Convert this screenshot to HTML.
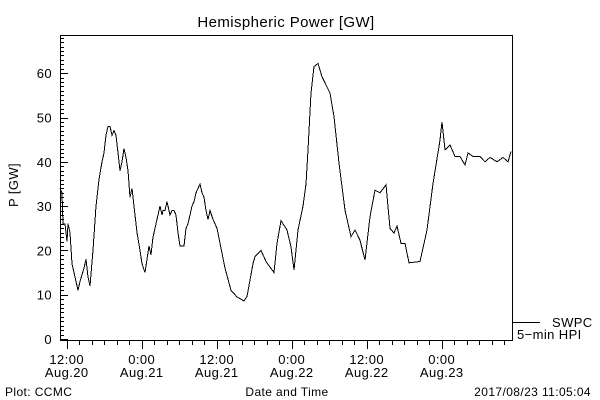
<!DOCTYPE html>
<html><head><meta charset="utf-8"><style>
html,body{margin:0;padding:0;background:#fff;}
svg{display:block;font-family:"Liberation Sans",sans-serif;}
text{letter-spacing:0.4px;}
</style></head><body>
<svg id="chart" width="600" height="400" viewBox="0 0 600 400" xmlns="http://www.w3.org/2000/svg">
<rect width="600" height="400" fill="#fff"/>
<text x="286" y="27" font-size="15" text-anchor="middle">Hemispheric Power [GW]</text>
<text transform="translate(18,185) rotate(-90)" font-size="13" text-anchor="middle">P [GW]</text>
<rect x="60.5" y="35.5" width="452" height="305" fill="none" stroke="#000" stroke-width="1" shape-rendering="crispEdges"/>
<g id="yaxis" shape-rendering="crispEdges"></g>
<g id="xaxis"></g>
<path id="series" fill="none" stroke="#000" stroke-width="1" shape-rendering="crispEdges"/>
<g>
<line x1="513" y1="322.5" x2="540" y2="322.5" stroke="#000" shape-rendering="crispEdges"/>
<text x="552" y="327" font-size="13">SWPC</text>
<text x="517" y="339" font-size="13">5−min HPI</text>
</g>
<text x="5" y="396" font-size="12">Plot: CCMC</text>
<text x="287" y="396" font-size="12" text-anchor="middle">Date and Time</text>
<text x="591" y="396" font-size="12" text-anchor="end">2017/08/23 11:05:04</text>
</svg>
<script>
// hours since 2017-08-20 12:00 UT
const times = [-1.07,-0.75,-0.59,-0.27,0.05,0.21,0.53,0.85,1.17,1.49,1.81,2.13,2.77,3.09,3.41,3.73,4.21,4.69,5.17,5.65,5.97,6.29,6.61,6.93,7.25,7.57,7.89,8.21,8.53,8.85,9.17,9.49,9.81,10.13,10.45,10.77,11.25,11.73,12.05,12.53,12.85,13.17,13.49,13.81,14.29,14.61,14.93,15.25,15.41,15.73,16.05,16.53,16.85,17.17,17.49,17.81,18.13,18.77,19.09,19.41,19.73,20.05,20.37,20.69,21.01,21.33,21.65,21.97,22.29,22.61,22.93,23.41,24.05,25.33,26.29,27.25,28.37,28.85,29.81,30.13,31.09,31.89,33.17,33.65,34.29,35.25,35.89,36.37,37.01,37.81,38.29,38.61,39.09,39.57,40.21,40.85,42.13,42.77,43.57,44.53,45.49,46.13,46.93,47.73,48.53,49.33,50.13,51.09,51.73,52.37,52.85,53.49,54.13,54.77,56.53,57.65,58.61,59.73,60.05,60.53,61.33,62.13,62.93,63.73,64.21,65.01,66.13,66.93,67.73,68.85,69.81,70.61,71.09];
const power = [34,33,26,26,22,26,24,17,15,13,11,13,16,18,14,12,20,30,36,40,42,46,48,48,46,47,46,42,38,40,43,41,38,32,34,30,24,20,17,15,18,21,19,23,26,28,30,28,29,29,31,28,29,29,28,24,21,21,25,26,28,30,31,33,34,35,33,32,29,27,29,27,25,16,11,9.5,8.6,9.6,17,18.6,20,17.5,15,21.6,26.7,24.6,20.8,15.6,24.6,30,35,42.7,55.5,61.5,62.2,59.2,55.5,50.2,39.7,29.1,23.1,24.6,22.3,17.8,27.6,33.6,33,34.8,25,23.9,25.5,21.6,21.6,17.2,17.5,24.6,35.1,44.9,49,42.7,43.8,41.2,41.2,39.3,42,41.2,41.2,40,41,40,41,40,42.3];
const yTicks = [0,10,20,30,40,50,60];
const xTickHours = [0,12,24,36,48,60];
const xTickTimes = ["12:00","0:00","12:00","0:00","12:00","0:00"];
const xTickDates = ["Aug.20","Aug.21","Aug.21","Aug.22","Aug.22","Aug.23"];

const NS="http://www.w3.org/2000/svg";
function xs(h){return 66.7+h*6.25;}
function ys(v){return 339-v*4.43;}
function mk(tag,attrs,parent){const e=document.createElementNS(NS,tag);for(const k in attrs)e.setAttribute(k,attrs[k]);parent.appendChild(e);return e;}

const ya=document.getElementById('yaxis');
for(let v=0;v<=68;v++){
  const y=Math.round(ys(v))+0.5;
  const major=v%10===0;
  const t=mk('line',{x1:60,y1:y,x2:major?68:64,y2:y,stroke:'#000'},ya);
  
  
}
yTicks.forEach(v=>{
  const t=mk('text',{x:52,y:ys(v)+5,'font-size':13,'text-anchor':'end'},ya);
  t.textContent=v;
  
  
});

const xa=document.getElementById('xaxis');
for(let h=0;h<=70;h+=2){
  const x=Math.round(xs(h))+0.5;
  const major=h%12===0;
  const t=mk('line',{x1:x,y1:341,x2:x,y2:major?349:345,stroke:'#000','shape-rendering':'crispEdges'},xa);
  
  
}
xTickHours.forEach((h,i)=>{
  const t1=mk('text',{x:xs(h),y:364,'font-size':13,'text-anchor':'middle'},xa);
  t1.textContent=xTickTimes[i];
  
  
  const t2=mk('text',{x:xs(h),y:377,'font-size':13,'text-anchor':'middle'},xa);
  t2.textContent=xTickDates[i];
  
  
});

let d='';
times.forEach((h,i)=>{d+=(i?'L':'M')+xs(h).toFixed(1)+','+ys(power[i]).toFixed(1);});
document.getElementById('series').setAttribute('d',d);
</script>
</body></html>
